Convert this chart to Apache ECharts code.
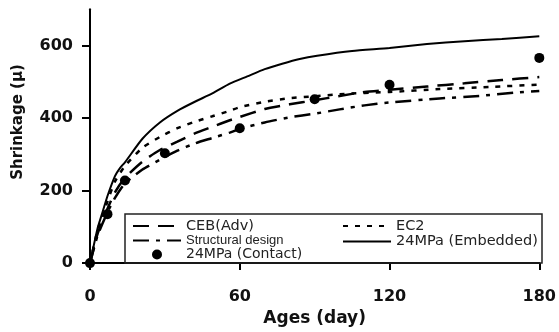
<!DOCTYPE html>
<html>
<head>
<meta charset="utf-8">
<script src="https://cdn.jsdelivr.net/npm/echarts@6/dist/echarts.min.js"></script>
<style>
  html, body { margin: 0; padding: 0; background: #fff; }
  #chart { width: 559px; height: 332px; }
</style>
</head>
<body>
<div id="chart"></div>
<script>
// Axis ticks
const xTicks = [0, 60, 120, 180];
const yTicks = [0, 200, 400, 600];

// CEB(Adv) model
const cebDays = [0, 3, 7, 10, 14, 21, 28, 35, 42, 49, 56, 60, 70, 80, 90, 100, 110, 120, 135, 150, 165, 180];
const cebVals = [0, 80, 150, 195, 235, 280, 312, 335, 358, 376, 394, 403, 425, 438, 449, 461, 472, 478, 487, 496, 505, 513];

// EC2 model
const ec2Days = [0, 3, 7, 10, 14, 21, 28, 35, 42, 49, 56, 60, 70, 80, 90, 100, 120, 140, 160, 180];
const ec2Vals = [0, 90, 170, 225, 268, 318, 348, 372, 390, 405, 420, 430, 445, 455, 460, 466, 472, 480, 486, 492];

// Structural design model
const sdDays = [0, 3, 7, 10, 14, 21, 28, 35, 42, 49, 56, 60, 70, 80, 90, 100, 110, 120, 140, 156, 170, 180];
const sdVals = [0, 75, 140, 180, 220, 258, 285, 310, 330, 345, 360, 370, 388, 402, 412, 424, 435, 443, 454, 461, 470, 475];

// 24MPa embedded gauge
const embDays = [0, 3, 5, 7, 10, 12, 14, 21, 28, 35, 42, 49, 56, 63, 70, 77, 84, 91, 105, 120, 135, 150, 165, 180];
const embVals = [0, 95, 140, 185, 240, 262, 278, 343, 388, 420, 445, 468, 495, 515, 535, 550, 563, 572, 585, 593, 604, 612, 618, 626];

// 24MPa contact gauge
const conDays = [0, 7, 14, 30, 60, 90, 120, 180];
const conVals = [0, 135, 228, 303, 372, 452, 492, 566];

const pairs = (xs, ys) => xs.map((x, i) => [x, ys[i]]);

const tickFont = { fontFamily: 'DejaVu Sans', fontWeight: 'bold', fontSize: 16, color: '#111' };
const legendFont = { fontFamily: 'DejaVu Sans', fontSize: 14.5, color: '#222', lineHeight: 13 };
// line entries in the legend show only the stroke, no marker
const noMarker = { opacity: 0, color: 'rgba(0,0,0,0)', borderWidth: 0 };

const chart = echarts.init(document.getElementById('chart'), null, { renderer: 'canvas' });

chart.setOption({
  animation: false,
  backgroundColor: '#fff',
  color: ['#000'],
  grid: { left: 90, right: 19, top: 9.3, bottom: 66 },
  xAxis: {
    type: 'value',
    min: 0, max: 180, interval: 60,
    name: 'Ages (day)',
    nameLocation: 'middle',
    nameGap: 44,
    nameTextStyle: { fontFamily: 'DejaVu Sans', fontWeight: 'bold', fontSize: 17, color: '#111' },
    axisLine: { show: true, onZero: false, lineStyle: { color: '#000', width: 2 } },
    axisTick: { show: true, inside: false, length: 7, lineStyle: { color: '#000', width: 2 }, customValues: xTicks },
    axisLabel: Object.assign({ margin: 26, customValues: xTicks }, tickFont),
    splitLine: { show: false }
  },
  yAxis: {
    type: 'value',
    min: 0, max: 700,
    axisLine: { show: true, onZero: false, lineStyle: { color: '#000', width: 2 } },
    axisTick: { show: true, inside: false, length: 8, lineStyle: { color: '#000', width: 2 }, customValues: yTicks },
    axisLabel: Object.assign({ margin: 17, customValues: yTicks }, tickFont),
    splitLine: { show: false }
  },
  legend: [
    {
      orient: 'vertical', left: 132, top: 218.5, padding: 0,
      itemWidth: 48, itemHeight: 10, itemGap: 0.5,
      selectedMode: false,
      textStyle: legendFont,
      data: [
        { name: 'CEB(Adv)', itemStyle: noMarker },
        { name: 'Structural design', itemStyle: noMarker,
          textStyle: { fontFamily: 'Liberation Sans', fontSize: 13, color: '#222', lineHeight: 13 } },
        { name: '24MPa (Contact)', textStyle: { fontSize: 14 } }
      ]
    },
    {
      orient: 'vertical', left: 342, top: 218.5, padding: 0,
      itemWidth: 48, itemHeight: 10, itemGap: 0.5,
      selectedMode: false,
      textStyle: legendFont,
      data: [
        { name: 'EC2', itemStyle: noMarker },
        { name: '24MPa (Embedded)', itemStyle: noMarker }
      ]
    }
  ],
  graphic: [
    {
      type: 'rect',
      shape: { x: 125, y: 214, width: 417, height: 49 },
      style: { fill: 'rgba(0,0,0,0)', stroke: '#222', lineWidth: 1.5 },
      z: 10
    },
    {
      type: 'text',
      x: 18, y: 122,
      rotation: Math.PI / 2,
      style: {
        text: 'Shrinkage (μ)',
        fontFamily: 'DejaVu Sans', fontWeight: 'bold', fontSize: 15,
        fill: '#111', textAlign: 'center', textVerticalAlign: 'middle'
      }
    }
  ],
  series: [
    {
      name: 'CEB(Adv)', type: 'line', data: pairs(cebDays, cebVals),
      showSymbol: false, symbol: 'none', smooth: 0.2, color: '#000',
      lineStyle: { color: '#000', width: 2.5, type: [16, 9], cap: 'butt' }
    },
    {
      name: 'EC2', type: 'line', data: pairs(ec2Days, ec2Vals),
      showSymbol: false, symbol: 'none', smooth: 0.2, color: '#000',
      lineStyle: { color: '#000', width: 2.5, type: [5, 7], cap: 'butt' }
    },
    {
      name: 'Structural design', type: 'line', data: pairs(sdDays, sdVals),
      showSymbol: false, symbol: 'none', smooth: 0.2, color: '#000',
      lineStyle: { color: '#000', width: 2.5, type: [16, 7, 4, 7], cap: 'butt' }
    },
    {
      name: '24MPa (Embedded)', type: 'line', data: pairs(embDays, embVals),
      showSymbol: false, symbol: 'none', smooth: 0.2, color: '#000',
      lineStyle: { color: '#000', width: 2, type: 'solid' }
    },
    {
      name: '24MPa (Contact)', type: 'scatter', data: pairs(conDays, conVals),
      symbol: 'circle', symbolSize: 10,
      itemStyle: { color: '#000', opacity: 1 },
      z: 5
    }
  ]
});
</script>
</body>
</html>
